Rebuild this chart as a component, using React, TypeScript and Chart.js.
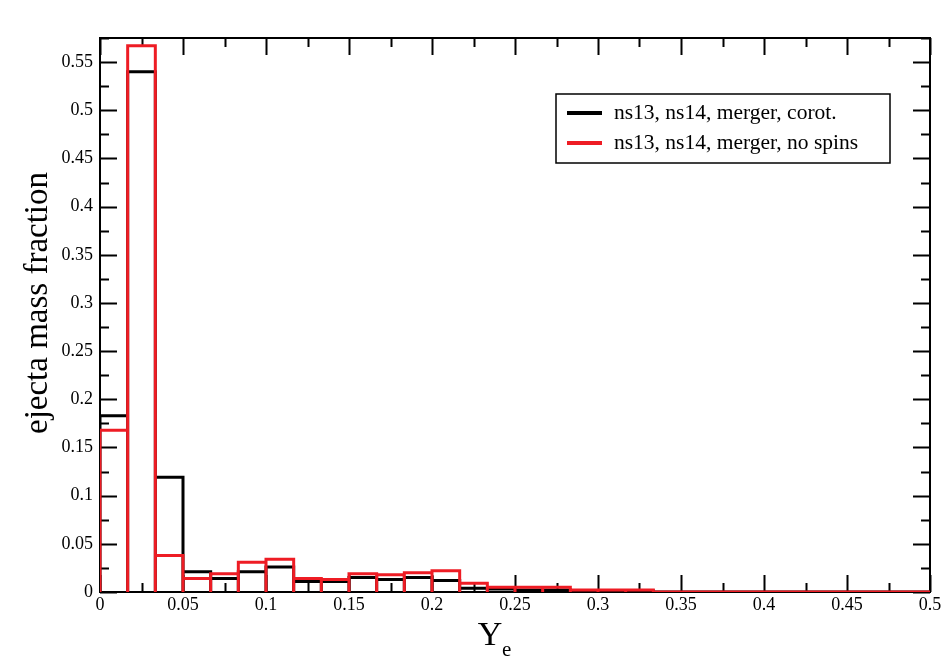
import React, { useEffect, useRef } from 'react';
import { Chart, registerables } from 'chart.js';

Chart.register(...registerables);

// Bin edges of the Ye histogram (width 1/60)
const binEdges = [
  0, 0.01667, 0.03333, 0.05, 0.06667, 0.08333, 0.1, 0.11667, 0.13333, 0.15,
  0.16667, 0.18333, 0.2, 0.21667, 0.23333, 0.25, 0.26667, 0.28333, 0.3, 0.31667,
  0.33333, 0.35, 0.36667, 0.38333, 0.4, 0.41667, 0.43333, 0.45, 0.46667, 0.48333, 0.5,
];

// ejecta mass fraction per bin
const corotValues = [
  0.183, 0.54, 0.119, 0.021, 0.014, 0.021, 0.026, 0.011, 0.011, 0.015,
  0.013, 0.015, 0.012, 0.004, 0.003, 0.002, 0.002, 0.001, 0.001, 0.001,
  0, 0, 0, 0, 0, 0, 0, 0, 0, 0,
];
const noSpinValues = [
  0.168, 0.567, 0.038, 0.014, 0.019, 0.031, 0.034, 0.014, 0.013, 0.019,
  0.018, 0.02, 0.022, 0.009, 0.005, 0.005, 0.005, 0.002, 0.002, 0.002,
  0, 0, 0, 0, 0, 0, 0, 0, 0, 0,
];

const seriesLabels = ['ns13, ns14, merger, corot.', 'ns13, ns14, merger, no spins'];
const seriesColors = ['#000000', '#ee1c24'];

const xTickValues = [0, 0.05, 0.1, 0.15, 0.2, 0.25, 0.3, 0.35, 0.4, 0.45, 0.5];
const yTickValues = [0, 0.05, 0.1, 0.15, 0.2, 0.25, 0.3, 0.35, 0.4, 0.45, 0.5, 0.55];
const xMax = 0.5;
const yMax = 0.575;
const yTitle = 'ejecta mass fraction';

const FONT = "'Liberation Serif', 'Times New Roman', serif";

function outline(values: number[]) {
  const pts: { x: number; y: number }[] = [];
  values.forEach((v, k) => {
    pts.push({ x: binEdges[k], y: 0 });
    pts.push({ x: binEdges[k], y: v });
    pts.push({ x: binEdges[k + 1], y: v });
    pts.push({ x: binEdges[k + 1], y: 0 });
  });
  return pts;
}

const fmt = (v: number) => String(Number(Number(v).toFixed(3)));

const framePlugin = {
  id: 'frame',
  beforeDatasetsDraw(chart: any) {
    const { ctx, chartArea: a, scales } = chart;
    const xs = scales.x;
    const ys = scales.y;
    ctx.save();
    ctx.strokeStyle = '#000';
    ctx.lineWidth = 2;
    ctx.strokeRect(a.left, a.top, a.right - a.left, a.bottom - a.top);
    const major = 17;
    const minor = 9;
    ctx.beginPath();
    const xMinor: number[] = [];
    for (let i = 0; i < xTickValues.length - 1; i++) xMinor.push((xTickValues[i] + xTickValues[i + 1]) / 2);
    const yMinor: number[] = [];
    for (let i = 0; i < yTickValues.length - 1; i++) yMinor.push((yTickValues[i] + yTickValues[i + 1]) / 2);
    yMinor.push(yTickValues[yTickValues.length - 1] + 0.025);
    const xt = (vals: number[], len: number) => {
      vals.forEach((v) => {
        const px = Math.round(xs.getPixelForValue(v)) + 0.5;
        ctx.moveTo(px, a.bottom);
        ctx.lineTo(px, a.bottom - len);
        ctx.moveTo(px, a.top);
        ctx.lineTo(px, a.top + len);
      });
    };
    const yt = (vals: number[], len: number) => {
      vals.forEach((v) => {
        const py = Math.round(ys.getPixelForValue(v)) + 0.5;
        ctx.moveTo(a.left, py);
        ctx.lineTo(a.left + len, py);
        ctx.moveTo(a.right, py);
        ctx.lineTo(a.right - len, py);
      });
    };
    xt(xTickValues, major);
    xt(xMinor, minor);
    yt(yTickValues, major);
    yt(yMinor, minor);
    ctx.stroke();
    ctx.restore();
  },
  afterDraw(chart: any) {
    const { ctx, chartArea: a } = chart;
    ctx.save();
    ctx.fillStyle = '#000';

    // y axis title
    ctx.save();
    ctx.translate(38, (a.top + a.bottom) / 2 - 12);
    ctx.rotate(-Math.PI / 2);
    ctx.font = `33px ${FONT}`;
    ctx.textAlign = 'center';
    ctx.textBaseline = 'middle';
    ctx.fillText(yTitle, 0, 0);
    ctx.restore();

    // x axis title: Y with subscript e
    ctx.textBaseline = 'alphabetic';
    ctx.font = `34px ${FONT}`;
    const cx = (a.left + a.right) / 2 - 25;
    ctx.textAlign = 'center';
    ctx.fillText('Y', cx, 645);
    ctx.textAlign = 'left';
    ctx.font = `21px ${FONT}`;
    ctx.fillText('e', cx + 12, 656);

    // legend box
    const bx = 556, by = 94, bw = 334, bh = 69;
    ctx.fillStyle = '#fff';
    ctx.fillRect(bx, by, bw, bh);
    ctx.strokeStyle = '#000';
    ctx.lineWidth = 1.5;
    ctx.strokeRect(bx, by, bw, bh);
    const rows = [113, 143];
    seriesLabels.forEach((lab, i) => {
      ctx.strokeStyle = seriesColors[i];
      ctx.lineWidth = 4;
      ctx.beginPath();
      ctx.moveTo(567, rows[i]);
      ctx.lineTo(602, rows[i]);
      ctx.stroke();
      ctx.fillStyle = '#000';
      ctx.font = `21.5px ${FONT}`;
      ctx.textBaseline = 'middle';
      ctx.textAlign = 'left';
      ctx.fillText(lab, 614, rows[i]);
    });
    ctx.restore();
  },
};

export default function App() {
  const ref = useRef<HTMLCanvasElement>(null);
  useEffect(() => {
    document.body.style.margin = '0';
    const canvas = ref.current;
    if (!canvas) return;
    const chart = new Chart(canvas, {
      type: 'line',
      data: {
        datasets: [
          {
            label: seriesLabels[0],
            data: outline(corotValues),
            borderColor: seriesColors[0],
            borderWidth: 3,
            pointRadius: 0,
            tension: 0,
            fill: false,
            borderJoinStyle: 'miter',
            order: 1,
          },
          {
            label: seriesLabels[1],
            data: outline(noSpinValues),
            borderColor: seriesColors[1],
            borderWidth: 3,
            pointRadius: 0,
            tension: 0,
            fill: false,
            borderJoinStyle: 'miter',
            order: 0,
          },
        ],
      },
      options: {
        responsive: false,
        animation: false,
        devicePixelRatio: 1,
        layout: { padding: { left: 0, top: 38, right: 16, bottom: 0 } },
        plugins: { legend: { display: false }, tooltip: { enabled: false } },
        scales: {
          x: {
            type: 'linear',
            min: 0,
            max: xMax,
            offset: false,
            afterFit: (s: any) => {
              s.height = 72;
            },
            afterBuildTicks: (s: any) => {
              s.ticks = xTickValues.map((v) => ({ value: v }));
            },
            grid: { display: false, drawTicks: false },
            border: { display: false },
            ticks: {
              padding: 2,
              color: '#000',
              font: { family: FONT, size: 18 },
              maxRotation: 0,
              autoSkip: false,
              callback: (v: any) => fmt(v),
            },
          },
          y: {
            type: 'linear',
            min: 0,
            max: yMax,
            afterFit: (s: any) => {
              s.width = 100;
            },
            afterBuildTicks: (s: any) => {
              s.ticks = yTickValues.map((v) => ({ value: v }));
            },
            grid: { display: false, drawTicks: false },
            border: { display: false },
            ticks: {
              padding: 7,
              color: '#000',
              font: { family: FONT, size: 18 },
              autoSkip: false,
              callback: (v: any) => fmt(v),
            },
          },
        },
      },
      plugins: [framePlugin],
    } as any);
    return () => chart.destroy();
  }, []);
  return <canvas ref={ref} width={946} height={664} style={{ display: 'block' }} />;
}
